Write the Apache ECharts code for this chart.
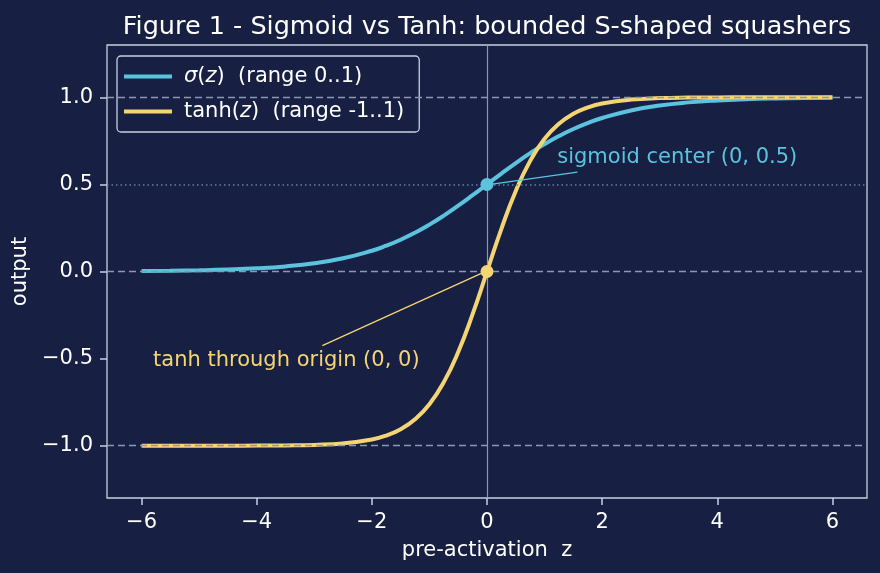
<!DOCTYPE html>
<html lang="en">
<head>
    <meta charset="utf-8">
    <title>Sigmoid vs Tanh</title>
    <script src="https://cdn.jsdelivr.net/npm/echarts@6/dist/echarts.min.js"></script>
    <style type="text/css">
        html, body {
            width: 100%;
            height: 100%;
            margin: 0px;
            padding: 0px;
            background: #172042;
        }

        #main {
            width: 880px;
            height: 573px;
        }
    </style>
</head>
<body>
<div id="main"></div>
<script>
    // values
    var zValues = [-6, -5.5, -5, -4.5, -4, -3.5, -3, -2.5, -2, -1.75, -1.5, -1.25, -1, -0.75, -0.5, -0.25,
        0, 0.25, 0.5, 0.75, 1, 1.25, 1.5, 1.75, 2, 2.5, 3, 3.5, 4, 4.5, 5, 5.5, 6];
    var sigmoidValues = [0.0025, 0.0041, 0.0067, 0.011, 0.018, 0.0293, 0.0474, 0.0759, 0.1192, 0.148, 0.1824, 0.2227,
        0.2689, 0.3208, 0.3775, 0.4378, 0.5, 0.5622, 0.6225, 0.6792, 0.7311, 0.7773, 0.8176, 0.852, 0.8808,
        0.9241, 0.9526, 0.9707, 0.982, 0.989, 0.9933, 0.9959, 0.9975];
    var tanhValues = [-1.0, -1.0, -0.9999, -0.9998, -0.9993, -0.9982, -0.9951, -0.9866, -0.964, -0.9414, -0.9051,
        -0.8483, -0.7616, -0.6351, -0.4621, -0.2449, 0, 0.2449, 0.4621, 0.6351, 0.7616, 0.8483, 0.9051, 0.9414,
        0.964, 0.9866, 0.9951, 0.9982, 0.9993, 0.9998, 0.9999, 1.0, 1.0];
    var xTicks = [-6, -4, -2, 0, 2, 4, 6];
    var yTicks = [-1, -0.5, 0, 0.5, 1];
    var refLinesDashed = [-1, 0, 1];

    var bg = '#172042';
    var cyan = '#5bc3de';
    var gold = '#f5d573';
    var frame = '#c9cfe2';
    var gridGray = '#8d96b3';
    var font = 'DejaVu Sans';
    var fs = 21;

    function pair(xs, ys) {
        var out = [];
        for (var i = 0; i < xs.length; i++) out.push([xs[i], ys[i]]);
        return out;
    }
    function minus(v, d) {
        var s = d ? v.toFixed(d) : String(v);
        return s.replace('-', '\u2212');
    }

    var myChart = echarts.init(document.getElementById('main'));

    var option = {
        backgroundColor: bg,
        animation: false,
        textStyle: { fontFamily: font },
        title: {
            text: 'Figure 1 - Sigmoid vs Tanh: bounded S-shaped squashers',
            left: 482, top: 9, textAlign: 'center',
            textStyle: { color: '#ffffff', fontSize: 25.5, fontWeight: 'normal', fontFamily: font }
        },
        grid: {
            left: 107, right: 13, top: 45, bottom: 75,
            show: true, borderColor: frame, borderWidth: 1.3, backgroundColor: bg
        },
        legend: {
            left: 117, top: 56, orient: 'vertical',
            padding: [10, 15, 10, 7], itemGap: 14,
            itemWidth: 48, itemHeight: 4, icon: 'rect',
            backgroundColor: bg, borderColor: frame, borderWidth: 1.3, borderRadius: 4,
            textStyle: {
                color: '#ffffff', fontSize: fs, fontFamily: font, padding: [0, 0, 0, 7],
                rich: { i: { fontStyle: 'italic', fontSize: fs, color: '#ffffff', fontFamily: font } }
            },
            formatter: function (name) {
                if (name === 'sigmoid') return '{i|\u03c3}({i|z})  (range 0..1)';
                return 'tanh({i|z})  (range -1..1)';
            },
            data: ['sigmoid', 'tanh']
        },
        xAxis: {
            type: 'value', min: -6.6, max: 6.6,
            name: 'pre-activation  z', nameLocation: 'middle', nameGap: 42,
            nameTextStyle: { color: '#ffffff', fontSize: fs, fontFamily: font },
            axisLine: { show: false, onZero: false },
            splitLine: { show: false },
            axisTick: { show: true, length: 7, lineStyle: { color: frame, width: 1.5 }, customValues: xTicks },
            axisLabel: { color: '#ffffff', fontSize: fs, fontFamily: font, margin: 14, customValues: xTicks,
                formatter: function (v) { return minus(v); } }
        },
        yAxis: {
            type: 'value', min: -1.3, max: 1.3,
            name: 'output', nameLocation: 'middle', nameGap: 71,
            nameTextStyle: { color: '#ffffff', fontSize: fs, fontFamily: font },
            axisLine: { show: false, onZero: false },
            splitLine: { show: false },
            axisTick: { show: true, length: 7, lineStyle: { color: frame, width: 1.5 }, customValues: yTicks },
            axisLabel: { color: '#ffffff', fontSize: fs, fontFamily: font, margin: 14, customValues: yTicks,
                formatter: function (v) { return minus(v, 1); } }
        },
        series: [
            {
                // reference lines
                type: 'line', name: 'refs', data: [], silent: true,
                markLine: {
                    silent: true, symbol: 'none', label: { show: false },
                    data: refLinesDashed.map(function (v) {
                        return { yAxis: v, lineStyle: { color: gridGray, type: [7, 4], width: 1.3 } };
                    }).concat([
                        { yAxis: 0.5, lineStyle: { color: '#5f7ea6', type: [1.5, 3], width: 1.5 } },
                        { xAxis: 0, lineStyle: { color: gridGray, type: 'solid', width: 1.2 } }
                    ])
                }
            },
            {
                type: 'line', name: 'sigmoid', data: pair(zValues, sigmoidValues),
                smooth: true, showSymbol: false, color: cyan,
                lineStyle: { color: cyan, width: 4 }, z: 3,
                markPoint: {
                    symbol: 'circle', symbolSize: 13, itemStyle: { color: cyan },
                    data: [{ coord: [0, 0.5], label: { show: false } },
                        { coord: [1.22, 0.655], symbolSize: 0,
                          label: { show: true, position: 'right', distance: 0, color: cyan, fontSize: fs,
                              fontFamily: font, formatter: 'sigmoid center (0, 0.5)' } }]
                },
                markLine: {
                    silent: true, symbol: ['none', 'arrow'], symbolSize: [0, 9],
                    lineStyle: { color: cyan, width: 1.3, type: 'solid' }, label: { show: false },
                    data: [[{ coord: [1.57, 0.57] }, { coord: [0.06, 0.5] }]]
                }
            },
            {
                type: 'line', name: 'tanh', data: pair(zValues, tanhValues),
                smooth: true, showSymbol: false, color: gold,
                lineStyle: { color: gold, width: 4 }, z: 4,
                markPoint: {
                    symbol: 'circle', symbolSize: 13, itemStyle: { color: gold },
                    data: [{ coord: [0, 0], label: { show: false } },
                        { coord: [-5.8, -0.51], symbolSize: 0,
                          label: { show: true, position: 'right', distance: 0, color: gold, fontSize: fs,
                              fontFamily: font, formatter: 'tanh through origin (0, 0)' } }]
                },
                markLine: {
                    silent: true, symbol: ['none', 'arrow'], symbolSize: [0, 9],
                    lineStyle: { color: gold, width: 1.3, type: 'solid' }, label: { show: false },
                    data: [[{ coord: [-2.86, -0.425] }, { coord: [-0.06, -0.005] }]]
                }
            }
        ]
    };

    myChart.setOption(option);
</script>
</body>
</html>
